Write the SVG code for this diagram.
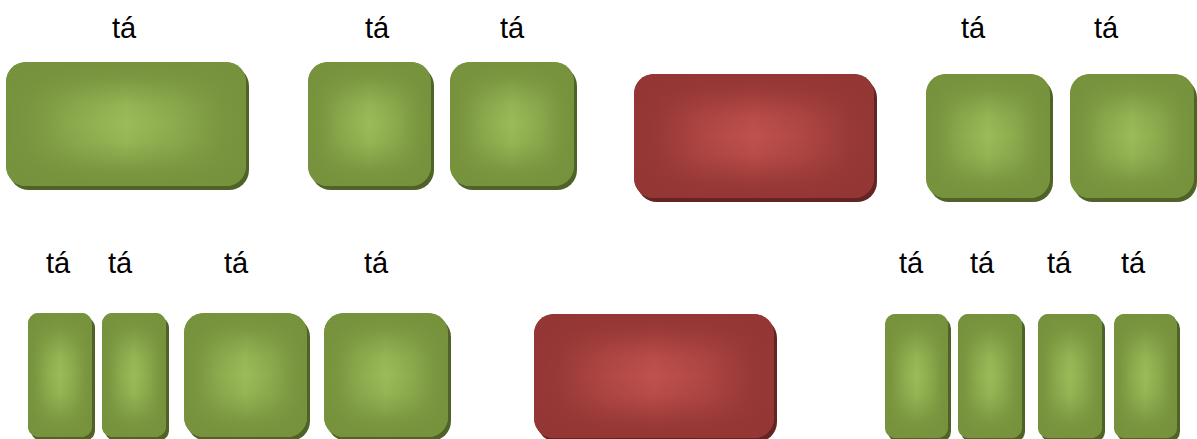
<svg xmlns="http://www.w3.org/2000/svg" width="1197" height="439" viewBox="0 0 1197 439">
<defs>
<linearGradient id="gH" x1="0" y1="0" x2="1" y2="0">
<stop offset="0" stop-color="#76923c"/><stop offset="0.1" stop-color="#7a963f"/><stop offset="0.3" stop-color="#8dac4e"/><stop offset="0.5" stop-color="#9bbb59"/><stop offset="0.7" stop-color="#8dac4e"/><stop offset="0.9" stop-color="#7a963f"/><stop offset="1" stop-color="#76923c"/>
</linearGradient>
<linearGradient id="gV" x1="0" y1="0" x2="0" y2="1">
<stop offset="0" stop-color="#76923c" stop-opacity="1"/><stop offset="0.12" stop-color="#76923c" stop-opacity="0.85"/><stop offset="0.35" stop-color="#76923c" stop-opacity="0.15"/><stop offset="0.5" stop-color="#76923c" stop-opacity="0"/><stop offset="0.65" stop-color="#76923c" stop-opacity="0.15"/><stop offset="0.88" stop-color="#76923c" stop-opacity="0.85"/><stop offset="1" stop-color="#76923c" stop-opacity="1"/>
</linearGradient>
<linearGradient id="rH" x1="0" y1="0" x2="1" y2="0">
<stop offset="0" stop-color="#943634"/><stop offset="0.1" stop-color="#983937"/><stop offset="0.3" stop-color="#b04845"/><stop offset="0.5" stop-color="#c0504d"/><stop offset="0.7" stop-color="#b04845"/><stop offset="0.9" stop-color="#983937"/><stop offset="1" stop-color="#943634"/>
</linearGradient>
<linearGradient id="rV" x1="0" y1="0" x2="0" y2="1">
<stop offset="0" stop-color="#943634" stop-opacity="1"/><stop offset="0.12" stop-color="#943634" stop-opacity="0.85"/><stop offset="0.35" stop-color="#943634" stop-opacity="0.15"/><stop offset="0.5" stop-color="#943634" stop-opacity="0"/><stop offset="0.65" stop-color="#943634" stop-opacity="0.15"/><stop offset="0.88" stop-color="#943634" stop-opacity="0.85"/><stop offset="1" stop-color="#943634" stop-opacity="1"/>
</linearGradient>
</defs>
<style>
.gs{fill:#4f6228}
.gb{fill:url(#gH)}
.go{fill:url(#gV)}
.rs{fill:#632523}
.rb{fill:url(#rH)}
.ro{fill:url(#rV)}
.lbl{font-family:"Liberation Sans",Arial,sans-serif;font-size:29px;fill:#000;text-anchor:middle}
</style>
<rect width="1197" height="439" fill="#ffffff"/>
<g id="connectors"/>
<!-- top row -->
<g id="n1">
<text class="lbl" x="124" y="38">tá</text>
<rect class="gs" x="9" y="66" width="240" height="124" rx="20"/>
<rect class="gb" x="6" y="62" width="240" height="124" rx="20"/>
<rect class="go" x="6" y="62" width="240" height="124" rx="20"/>
</g>
<g id="n2">
<text class="lbl" x="377" y="38">tá</text>
<rect class="gs" x="311" y="66" width="123" height="124" rx="20"/>
<rect class="gb" x="308" y="62" width="123" height="124" rx="20"/>
<rect class="go" x="308" y="62" width="123" height="124" rx="20"/>
</g>
<g id="n3">
<text class="lbl" x="512" y="38">tá</text>
<rect class="gs" x="453" y="66" width="124" height="124" rx="20"/>
<rect class="gb" x="450" y="62" width="124" height="124" rx="20"/>
<rect class="go" x="450" y="62" width="124" height="124" rx="20"/>
</g>
<g id="n4">
<rect class="rs" x="637" y="78" width="240" height="124" rx="20"/>
<rect class="rb" x="634" y="74" width="240" height="124" rx="20"/>
<rect class="ro" x="634" y="74" width="240" height="124" rx="20"/>
</g>
<g id="n5">
<text class="lbl" x="973" y="38">tá</text>
<rect class="gs" x="929" y="78" width="124" height="124" rx="20"/>
<rect class="gb" x="926" y="74" width="124" height="124" rx="20"/>
<rect class="go" x="926" y="74" width="124" height="124" rx="20"/>
</g>
<g id="n6">
<text class="lbl" x="1106" y="38">tá</text>
<rect class="gs" x="1073" y="78" width="124" height="124" rx="20"/>
<rect class="gb" x="1070" y="74" width="124" height="124" rx="20"/>
<rect class="go" x="1070" y="74" width="124" height="124" rx="20"/>
</g>
<!-- bottom row -->
<g id="n7">
<text class="lbl" x="58" y="273">tá</text>
<rect class="gs" x="31" y="317" width="64" height="124" rx="10.7"/>
<rect class="gb" x="28" y="313" width="64" height="124" rx="10.7"/>
<rect class="go" x="28" y="313" width="64" height="124" rx="10.7"/>
</g>
<g id="n8">
<text class="lbl" x="120" y="273">tá</text>
<rect class="gs" x="105" y="317" width="64" height="124" rx="10.7"/>
<rect class="gb" x="102" y="313" width="64" height="124" rx="10.7"/>
<rect class="go" x="102" y="313" width="64" height="124" rx="10.7"/>
</g>
<g id="n9">
<text class="lbl" x="236" y="273">tá</text>
<rect class="gs" x="187" y="317" width="123" height="124" rx="20"/>
<rect class="gb" x="184" y="313" width="123" height="124" rx="20"/>
<rect class="go" x="184" y="313" width="123" height="124" rx="20"/>
</g>
<g id="n10">
<text class="lbl" x="376" y="273">tá</text>
<rect class="gs" x="327" y="317" width="124" height="124" rx="20"/>
<rect class="gb" x="324" y="313" width="124" height="124" rx="20"/>
<rect class="go" x="324" y="313" width="124" height="124" rx="20"/>
</g>
<g id="n11">
<rect class="rs" x="537" y="318" width="240" height="124" rx="20"/>
<rect class="rb" x="534" y="314" width="240" height="124" rx="20"/>
<rect class="ro" x="534" y="314" width="240" height="124" rx="20"/>
</g>
<g id="n12">
<text class="lbl" x="911" y="273">tá</text>
<rect class="gs" x="888" y="318" width="63" height="124" rx="10.5"/>
<rect class="gb" x="885" y="314" width="63" height="124" rx="10.5"/>
<rect class="go" x="885" y="314" width="63" height="124" rx="10.5"/>
</g>
<g id="n13">
<text class="lbl" x="982" y="273">tá</text>
<rect class="gs" x="961" y="318" width="64" height="124" rx="10.7"/>
<rect class="gb" x="958" y="314" width="64" height="124" rx="10.7"/>
<rect class="go" x="958" y="314" width="64" height="124" rx="10.7"/>
</g>
<g id="n14">
<text class="lbl" x="1059" y="273">tá</text>
<rect class="gs" x="1041" y="318" width="64" height="124" rx="10.7"/>
<rect class="gb" x="1038" y="314" width="64" height="124" rx="10.7"/>
<rect class="go" x="1038" y="314" width="64" height="124" rx="10.7"/>
</g>
<g id="n15">
<text class="lbl" x="1133" y="273">tá</text>
<rect class="gs" x="1117" y="318" width="63" height="124" rx="10.5"/>
<rect class="gb" x="1114" y="314" width="63" height="124" rx="10.5"/>
<rect class="go" x="1114" y="314" width="63" height="124" rx="10.5"/>
</g>
</svg>
